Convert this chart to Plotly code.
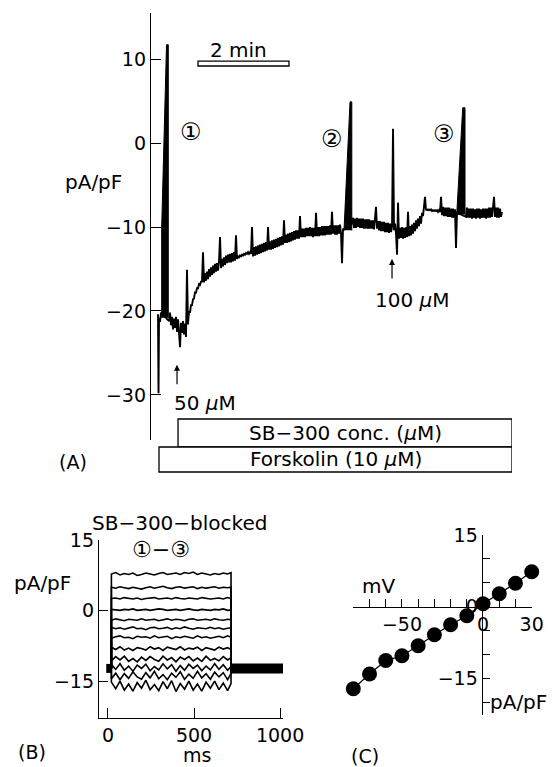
import plotly.graph_objects as go

W, H = 558, 767
PAGE_MARGIN = 8  # browser body margin around the plot div
FONT = "DejaVu Sans"
FS = 19
FS_TXT = 20

# ---------------- Panel A data (time in min, current in pA/pF) ----------------
TRACE_A = [
    (0.000, -20.4), (0.011, -29.8), (0.022, -20.8), (0.044, -21.3), (0.066, -20.2),
    (0.242, -21.2), (0.264, -20.2), (0.286, -21.7), (0.308, -20.7), (0.330, -22.2), (0.352, -20.9),
    (0.374, -22.0), (0.396, -20.7), (0.418, -22.5), (0.440, -21.0), (0.462, -22.2), (0.484, -24.3),
    (0.505, -21.4), (0.527, -22.6), (0.549, -21.2), (0.571, -22.8), (0.593, -21.5), (0.615, -23.1),
    (0.637, -15.1), (0.659, -21.6), (0.681, -20.1), (0.703, -20.2), (0.725, -19.3), (0.747, -19.3),
    (0.769, -18.6), (0.791, -18.5), (0.813, -17.8), (0.835, -17.8), (0.857, -17.3), (0.879, -17.3),
    (0.901, -16.8), (0.923, -16.9), (0.945, -16.5), (0.967, -16.5), (0.989, -13.0), (1.011, -16.6),
    (1.033, -15.5), (1.055, -16.4), (1.077, -15.3), (1.099, -16.2), (1.121, -15.0), (1.143, -15.9),
    (1.165, -14.8), (1.187, -15.7), (1.209, -14.6), (1.231, -15.5), (1.253, -14.4), (1.275, -15.3),
    (1.297, -14.3), (1.319, -15.2), (1.341, -14.1), (1.363, -11.2), (1.385, -14.9), (1.407, -13.8),
    (1.429, -14.7), (1.451, -13.6), (1.473, -14.5), (1.495, -13.4), (1.516, -14.3), (1.538, -13.3),
    (1.560, -14.2), (1.582, -13.2), (1.604, -14.2), (1.626, -13.1), (1.648, -14.1), (1.670, -13.0),
    (1.692, -14.0), (1.714, -11.0), (1.736, -13.8), (1.758, -13.5), (1.780, -13.6), (1.802, -13.4),
    (1.824, -13.5), (1.846, -13.3), (1.868, -13.4), (1.890, -13.2), (1.912, -13.3), (1.934, -13.1),
    (1.956, -13.2), (1.978, -13.0), (2.000, -13.2), (2.022, -13.0), (2.044, -13.2), (2.066, -10.0),
    (2.088, -13.5), (2.110, -12.4), (2.132, -13.4), (2.154, -12.3), (2.176, -13.3), (2.198, -12.2),
    (2.220, -13.2), (2.242, -12.1), (2.264, -13.1), (2.286, -12.0), (2.308, -13.0), (2.330, -11.9),
    (2.352, -12.9), (2.374, -11.8), (2.396, -12.8), (2.418, -10.0), (2.440, -12.7), (2.462, -11.7),
    (2.484, -12.7), (2.505, -11.6), (2.527, -12.6), (2.549, -11.5), (2.571, -12.5), (2.593, -11.4),
    (2.615, -12.4), (2.637, -11.3), (2.659, -12.3), (2.681, -11.2), (2.703, -12.2), (2.725, -11.1),
    (2.747, -12.1), (2.769, -9.2), (2.791, -11.9), (2.813, -10.9), (2.835, -11.9), (2.857, -10.8),
    (2.879, -11.8), (2.901, -10.7), (2.923, -11.7), (2.945, -10.6), (2.967, -11.6), (2.989, -10.5),
    (3.011, -11.5), (3.033, -10.4), (3.055, -11.4), (3.077, -10.4), (3.099, -11.4), (3.121, -8.7),
    (3.143, -11.2), (3.165, -10.2), (3.187, -11.2), (3.209, -10.2), (3.231, -11.2), (3.253, -10.1),
    (3.275, -11.1), (3.297, -10.1), (3.319, -11.1), (3.341, -10.0), (3.363, -11.1), (3.385, -10.1),
    (3.407, -11.2), (3.429, -10.1), (3.451, -11.1), (3.473, -8.3), (3.495, -11.1), (3.517, -10.0),
    (3.539, -11.1), (3.560, -10.0), (3.582, -11.0), (3.604, -9.9), (3.626, -11.0), (3.648, -9.9),
    (3.670, -11.0), (3.692, -9.9), (3.714, -10.9), (3.736, -9.9), (3.758, -10.9), (3.780, -9.8),
    (3.802, -10.9), (3.824, -8.2), (3.846, -10.8), (3.868, -9.8), (3.890, -10.9), (3.912, -9.8),
    (3.934, -10.9), (3.956, -9.8), (3.978, -10.8), (4.000, -9.7), (4.022, -10.8), (4.044, -14.3),
    (4.066, -10.2), (4.088, -10.3), (4.264, -9.6), (4.286, -8.9), (4.308, -10.1), (4.330, -9.0),
    (4.352, -10.1), (4.374, -8.9), (4.396, -10.0), (4.418, -9.0), (4.440, -10.1), (4.462, -9.0),
    (4.484, -10.1), (4.505, -9.0), (4.527, -10.2), (4.549, -9.1), (4.571, -10.2), (4.593, -9.1),
    (4.615, -10.2), (4.637, -9.1), (4.659, -10.2), (4.681, -9.2), (4.703, -10.2), (4.725, -9.2),
    (4.747, -10.3), (4.769, -9.2), (4.791, -7.6), (4.813, -10.2), (4.835, -9.3), (4.857, -10.4),
    (4.879, -9.3), (4.901, -10.5), (4.923, -9.4), (4.945, -10.5), (4.967, -9.4), (4.989, -10.6),
    (5.011, -9.5), (5.033, -10.6), (5.055, -9.5), (5.077, -10.7), (5.099, -9.6), (5.121, -10.6),
    (5.143, -10.0), (5.165, 1.7), (5.187, -10.4), (5.209, -9.6), (5.231, -10.8), (5.253, -13.3),
    (5.275, -7.1), (5.297, -11.4), (5.319, -10.1), (5.341, -11.3), (5.363, -10.0), (5.385, -11.4),
    (5.407, -10.1), (5.429, -11.3), (5.451, -10.0), (5.473, -11.2), (5.495, -8.2), (5.516, -11.1),
    (5.538, -9.9), (5.560, -11.0), (5.582, -9.7), (5.604, -10.8), (5.626, -9.5), (5.648, -10.5),
    (5.670, -9.2), (5.692, -10.2), (5.714, -9.0), (5.736, -9.9), (5.758, -8.7), (5.780, -9.6),
    (5.802, -8.3), (5.824, -8.7), (5.846, -7.5), (5.868, -6.4), (5.890, -8.0), (5.912, -7.9),
    (5.934, -8.0), (5.956, -7.9), (5.978, -8.0), (6.000, -7.9), (6.022, -8.1), (6.044, -8.0),
    (6.066, -8.1), (6.088, -8.0), (6.110, -8.1), (6.132, -8.0), (6.154, -8.2), (6.176, -8.0),
    (6.198, -8.2), (6.220, -6.4), (6.242, -8.6), (6.264, -7.6), (6.286, -8.7), (6.308, -7.7),
    (6.330, -8.7), (6.352, -7.7), (6.374, -8.8), (6.396, -7.7), (6.418, -8.8), (6.440, -7.8),
    (6.462, -8.9), (6.484, -7.8), (6.505, -8.9), (6.527, -7.9), (6.549, -12.5), (6.571, -8.3),
    (6.769, -8.8), (6.791, -7.7), (6.813, -8.9), (6.835, -7.8), (6.857, -8.9), (6.879, -7.8),
    (6.901, -9.0), (6.923, -7.8), (6.945, -8.9), (6.967, -7.9), (6.989, -9.0), (7.011, -7.8),
    (7.033, -8.9), (7.055, -7.8), (7.077, -9.0), (7.099, -7.9), (7.121, -8.9), (7.143, -7.8),
    (7.165, -8.9), (7.187, -7.8), (7.209, -9.0), (7.231, -7.8), (7.253, -8.9), (7.275, -7.7),
    (7.297, -8.9), (7.319, -7.7), (7.341, -8.8), (7.363, -7.8), (7.385, -6.4), (7.407, -8.8),
    (7.429, -7.7), (7.451, -8.9), (7.473, -7.7), (7.495, -8.9), (7.516, -7.8), (7.538, -8.8),
    (7.560, -8.2),
]

# step-protocol bursts (outline of the filled region)
BURST1_T = [0.081, 0.081, 0.187, 0.226, 0.226]
BURST1_I = [-20.8, -10.0, 11.7, 11.7, -20.8]
BURST2_T = [4.088, 4.220, 4.259, 4.259]
BURST2_I = [-10.4, 4.9, 4.9, -10.4]
BURST3_T = [6.565, 6.697, 6.747, 6.747]
BURST3_I = [-8.5, 4.2, 4.2, -8.5]

A_YTICKS = [10, 0, -10, -20, -30]
A_XRANGE = [-0.154, 7.78]
A_YRANGE = [-35.36, 15.48]
SCALEBAR_MIN = [0.879, 2.879]
SCALEBAR_I = [9.17, 9.76]
SB_START, FSK_START, DRUG_END = 0.440, 0.022, 7.78
ARROW_50 = (0.418, -26.4)
ARROW_100 = (5.143, -13.8)
CIRCLE_LABELS = [("①", 0.725, 1.3), ("②", 3.824, 0.5), ("③", 6.286, 1.1)]

# ---------------- Panel B data (ms, pA/pF) ----------------
LEVELS_B = [7.8, 4.9, 2.6, 0.2, -1.9, -3.7, -5.6, -8.0, -10.2, -12.0, -13.7, -15.9]
HOLD_B = -12.2
STEP_T = [20, 45, 70, 95, 120, 145, 170, 195, 220, 245, 270, 295, 320, 345, 370, 395,
          420, 445, 470, 495, 520, 545, 570, 595, 620, 645, 670, 695, 715]
# fluctuation of each step trace around its level, in 0.1 pA/pF
NOISE_B = [
    [0, 3, -2, 1, -1, 2, -3, -1, 2, 0, -2, 1, 3, -1, 0, 2, -1, 3, 1, 4, -1, 2, 0, -2, 1, -1, 2, 0, 3],
    [1, -1, 2, 0, -2, 1, -1, -3, 0, 2, -1, 1, 3, 0, -2, 1, 2, -1, 0, 2, -2, 1, -1, 0, 2, -1, 1, 0, 1],
    [0, 1, -1, 2, 0, -1, 1, -2, 0, 1, 2, -1, 0, 1, -1, 2, 0, -1, 1, 0, -1, 2, 1, -1, 0, 1, -1, 2, 0],
    [1, 0, -1, 1, 0, 2, -1, 0, 1, -1, 0, 2, 1, -1, 0, 1, -1, 0, 2, 0, -1, 1, 0, -1, 1, 0, 2, -1, 0],
    [-1, 2, 0, -2, 1, 0, -1, 2, -1, 0, 1, -2, 0, 2, -1, 1, 0, -2, 1, 2, -1, 0, 1, -1, 2, 0, -1, 1, 0],
    [2, -1, 1, -2, 0, 3, -1, 0, -3, 1, 2, -1, 0, 2, -2, 1, -1, 3, 0, -2, 1, 0, -1, 2, -1, 1, -2, 0, 1],
    [-2, 1, 3, -1, 0, -3, 2, 0, 1, -2, 3, -1, 0, 2, -3, 1, -1, 2, 0, -2, 3, -1, 1, -2, 0, 2, -1, 3, 0],
    [3, -2, 4, -3, 1, -4, 2, 0, -3, 4, -1, 2, -4, 3, 0, -2, 4, -3, 1, -1, 3, -4, 2, 0, -3, 3, -1, 2, -2],
    [-4, 5, -2, 6, -5, 1, -6, 4, -3, 5, -1, -5, 6, -2, 3, -6, 4, -1, 5, -4, 2, -5, 6, -3, 1, -4, 5, -2, 3],
    [6, -4, 8, -6, 3, -8, 5, -2, 7, -7, 2, -5, 8, -3, 6, -8, 4, -6, 7, -2, 5, -7, 3, -5, 8, -4, 6, -6, 2],
    [-7, 5, -9, 4, -6, 8, -3, -8, 6, -5, 9, -7, 2, -9, 5, -4, 8, -8, 3, -6, 9, -5, 4, -8, 7, -3, 6, -9, 4],
    [8, -6, 10, -9, 4, -11, 7, -5, 12, -8, 3, -10, 9, -6, 11, -12, 5, -7, 10, -9, 4, -11, 8, -5, 10, -8, 6, -10, 5],
]
T_START, T_END = -10, 1030
B_XTICKS = [0, 500, 1000]
B_YTICKS = [15, 0, -15]

# ---------------- Panel C data (mV, pA/pF) ----------------
MV_C = [-80, -70, -60, -50, -40, -30, -20, -10, 0, 10, 20, 30]
I_C = [-17.2, -14.1, -11.3, -10.3, -8.2, -5.9, -3.8, -1.9, 0.6, 2.7, 4.9, 7.3]

fig = go.Figure()

# Panel A
fig.add_trace(go.Scatter(x=[p[0] for p in TRACE_A], y=[p[1] for p in TRACE_A], mode="lines",
                         line=dict(color="black", width=1.9), xaxis="x", yaxis="y",
                         showlegend=False, hoverinfo="skip"))
for bt, bi in [(BURST1_T, BURST1_I), (BURST2_T, BURST2_I), (BURST3_T, BURST3_I)]:
    fig.add_trace(go.Scatter(x=bt, y=bi, mode="lines", fill="toself", fillcolor="black",
                             line=dict(color="black", width=1), xaxis="x", yaxis="y",
                             showlegend=False, hoverinfo="skip"))

# Panel B
for lev, noise in zip(LEVELS_B, NOISE_B):
    ys = [lev + d / 10 for d in noise]
    fig.add_trace(go.Scatter(x=[STEP_T[0]] + STEP_T + [STEP_T[-1]],
                             y=[HOLD_B] + ys + [HOLD_B], mode="lines",
                             line=dict(color="black", width=1.6), xaxis="x2", yaxis="y2",
                             showlegend=False, hoverinfo="skip"))
fig.add_trace(go.Scatter(x=[T_START, STEP_T[0]], y=[HOLD_B, HOLD_B], mode="lines",
                         line=dict(color="black", width=9), xaxis="x2", yaxis="y2",
                         showlegend=False, hoverinfo="skip"))
fig.add_trace(go.Scatter(x=[STEP_T[-1], T_END], y=[HOLD_B, HOLD_B], mode="lines",
                         line=dict(color="black", width=10), xaxis="x2", yaxis="y2",
                         showlegend=False, hoverinfo="skip"))

# Panel C
fig.add_trace(go.Scatter(x=MV_C, y=I_C, mode="lines+markers",
                         line=dict(color="black", width=1.2),
                         marker=dict(color="black", size=15),
                         xaxis="x3", yaxis="y3", showlegend=False, hoverinfo="skip",
                         cliponaxis=False))


def px(x):
    return (x - PAGE_MARGIN) / W


def py(y):
    return 1 - (y - PAGE_MARGIN) / H


axis_common = dict(showgrid=False, zeroline=False, showline=True, linecolor="black",
                   linewidth=1.3, ticks="inside", tickcolor="black", tickwidth=1.3,
                   automargin=False,
                   tickfont=dict(family=FONT, size=FS, color="black"))

fig.update_layout(
    template="none",
    width=W, height=H, margin=dict(l=0, r=0, t=0, b=0, pad=0), autosize=False,
    paper_bgcolor="white", plot_bgcolor="rgba(0,0,0,0)",
    font=dict(family=FONT, size=FS, color="black"),
    showlegend=False,
    xaxis=dict(domain=[px(151), px(512)], range=A_XRANGE, visible=False, anchor="y",
               automargin=False),
    yaxis=dict(domain=[py(440), py(13)], range=A_YRANGE, tickvals=A_YTICKS, ticklen=10,
               anchor="x", **axis_common),
    xaxis2=dict(domain=[px(99), px(283)], range=[-52, 1017], tickvals=B_XTICKS, ticklen=10,
                anchor="y2", **axis_common),
    yaxis2=dict(domain=[py(718), py(540)], range=[-22.7, 15], tickvals=B_YTICKS, ticklen=9,
                anchor="x2", **axis_common),
    xaxis3=dict(domain=[px(353.3), px(531.7)], range=[-80, 30], tickvals=[-50, 0, 30], ticklen=8,
                anchor="free", position=py(606.7),
                minor=dict(tickvals=MV_C, ticklen=8, ticks="inside", tickcolor="black", tickwidth=1.3),
                **axis_common),
    yaxis3=dict(domain=[py(715), py(535)], range=[-22.7, 15], tickvals=B_YTICKS, ticklen=7,
                anchor="free", position=px(481.7),
                minor=dict(tickvals=[10, 5, -5, -10, -20], ticklen=7, ticks="inside",
                           tickcolor="black", tickwidth=1.3),
                **axis_common),
)

shapes = [
    dict(type="rect", xref="x", yref="y", x0=SCALEBAR_MIN[0], x1=SCALEBAR_MIN[1],
         y0=SCALEBAR_I[0], y1=SCALEBAR_I[1], line=dict(color="black", width=1.3), fillcolor="white"),
    dict(type="rect", xref="x", yref="paper", x0=SB_START, x1=DRUG_END, y0=py(447), y1=py(419),
         line=dict(color="black", width=1.3), fillcolor="white"),
    dict(type="rect", xref="x", yref="paper", x0=FSK_START, x1=DRUG_END, y0=py(472), y1=py(447),
         line=dict(color="black", width=1.3), fillcolor="white"),
]
fig.update_layout(shapes=shapes)

ann = []


def txt(text, x, y, xref="paper", yref="paper", size=FS_TXT, xanchor="center", yanchor="middle"):
    ann.append(dict(text=text, x=x, y=y, xref=xref, yref=yref, showarrow=False,
                    font=dict(family=FONT, size=size, color="black"),
                    xanchor=xanchor, yanchor=yanchor))


# Panel A texts
txt("2 min", 1.758, 11.1, xref="x", yref="y")
for lab, tx, ty in CIRCLE_LABELS:
    txt(lab, tx, ty, xref="x", yref="y", size=24)
txt("pA/pF", px(93), py(182))
txt("(A)", px(73), py(462), size=FS)
txt("50 <i>μ</i>M", px(172), py(403), xanchor="left")
txt("100 <i>μ</i>M", px(412), py(300))
txt("SB−300 conc. (<i>μ</i>M)", (SB_START + DRUG_END) / 2, py(433), xref="x")
txt("Forskolin (10 <i>μ</i>M)", (FSK_START + DRUG_END) / 2, py(459), xref="x")
for ax_, ay_ in [ARROW_50, ARROW_100]:
    ann.append(dict(text="", x=ax_, y=ay_, xref="x", yref="y", showarrow=True,
                    ax=0, ay=21, arrowhead=2, arrowsize=1, arrowwidth=1.2, arrowcolor="black"))

# Panel B texts
txt("SB−300−blocked", px(179), py(523))
txt("①−③", px(161), py(549), size=22)
txt("pA/pF", px(42), py(583))
txt("ms", px(197), py(755), size=FS)
txt("(B)", px(32), py(752), size=FS)

# Panel C texts
txt("mV", px(378), py(586))
txt("pA/pF", px(488), py(702), xanchor="left")
txt("(C)", px(365), py(756), size=FS)

fig.update_layout(annotations=ann)

fig.write_html("out.html")
